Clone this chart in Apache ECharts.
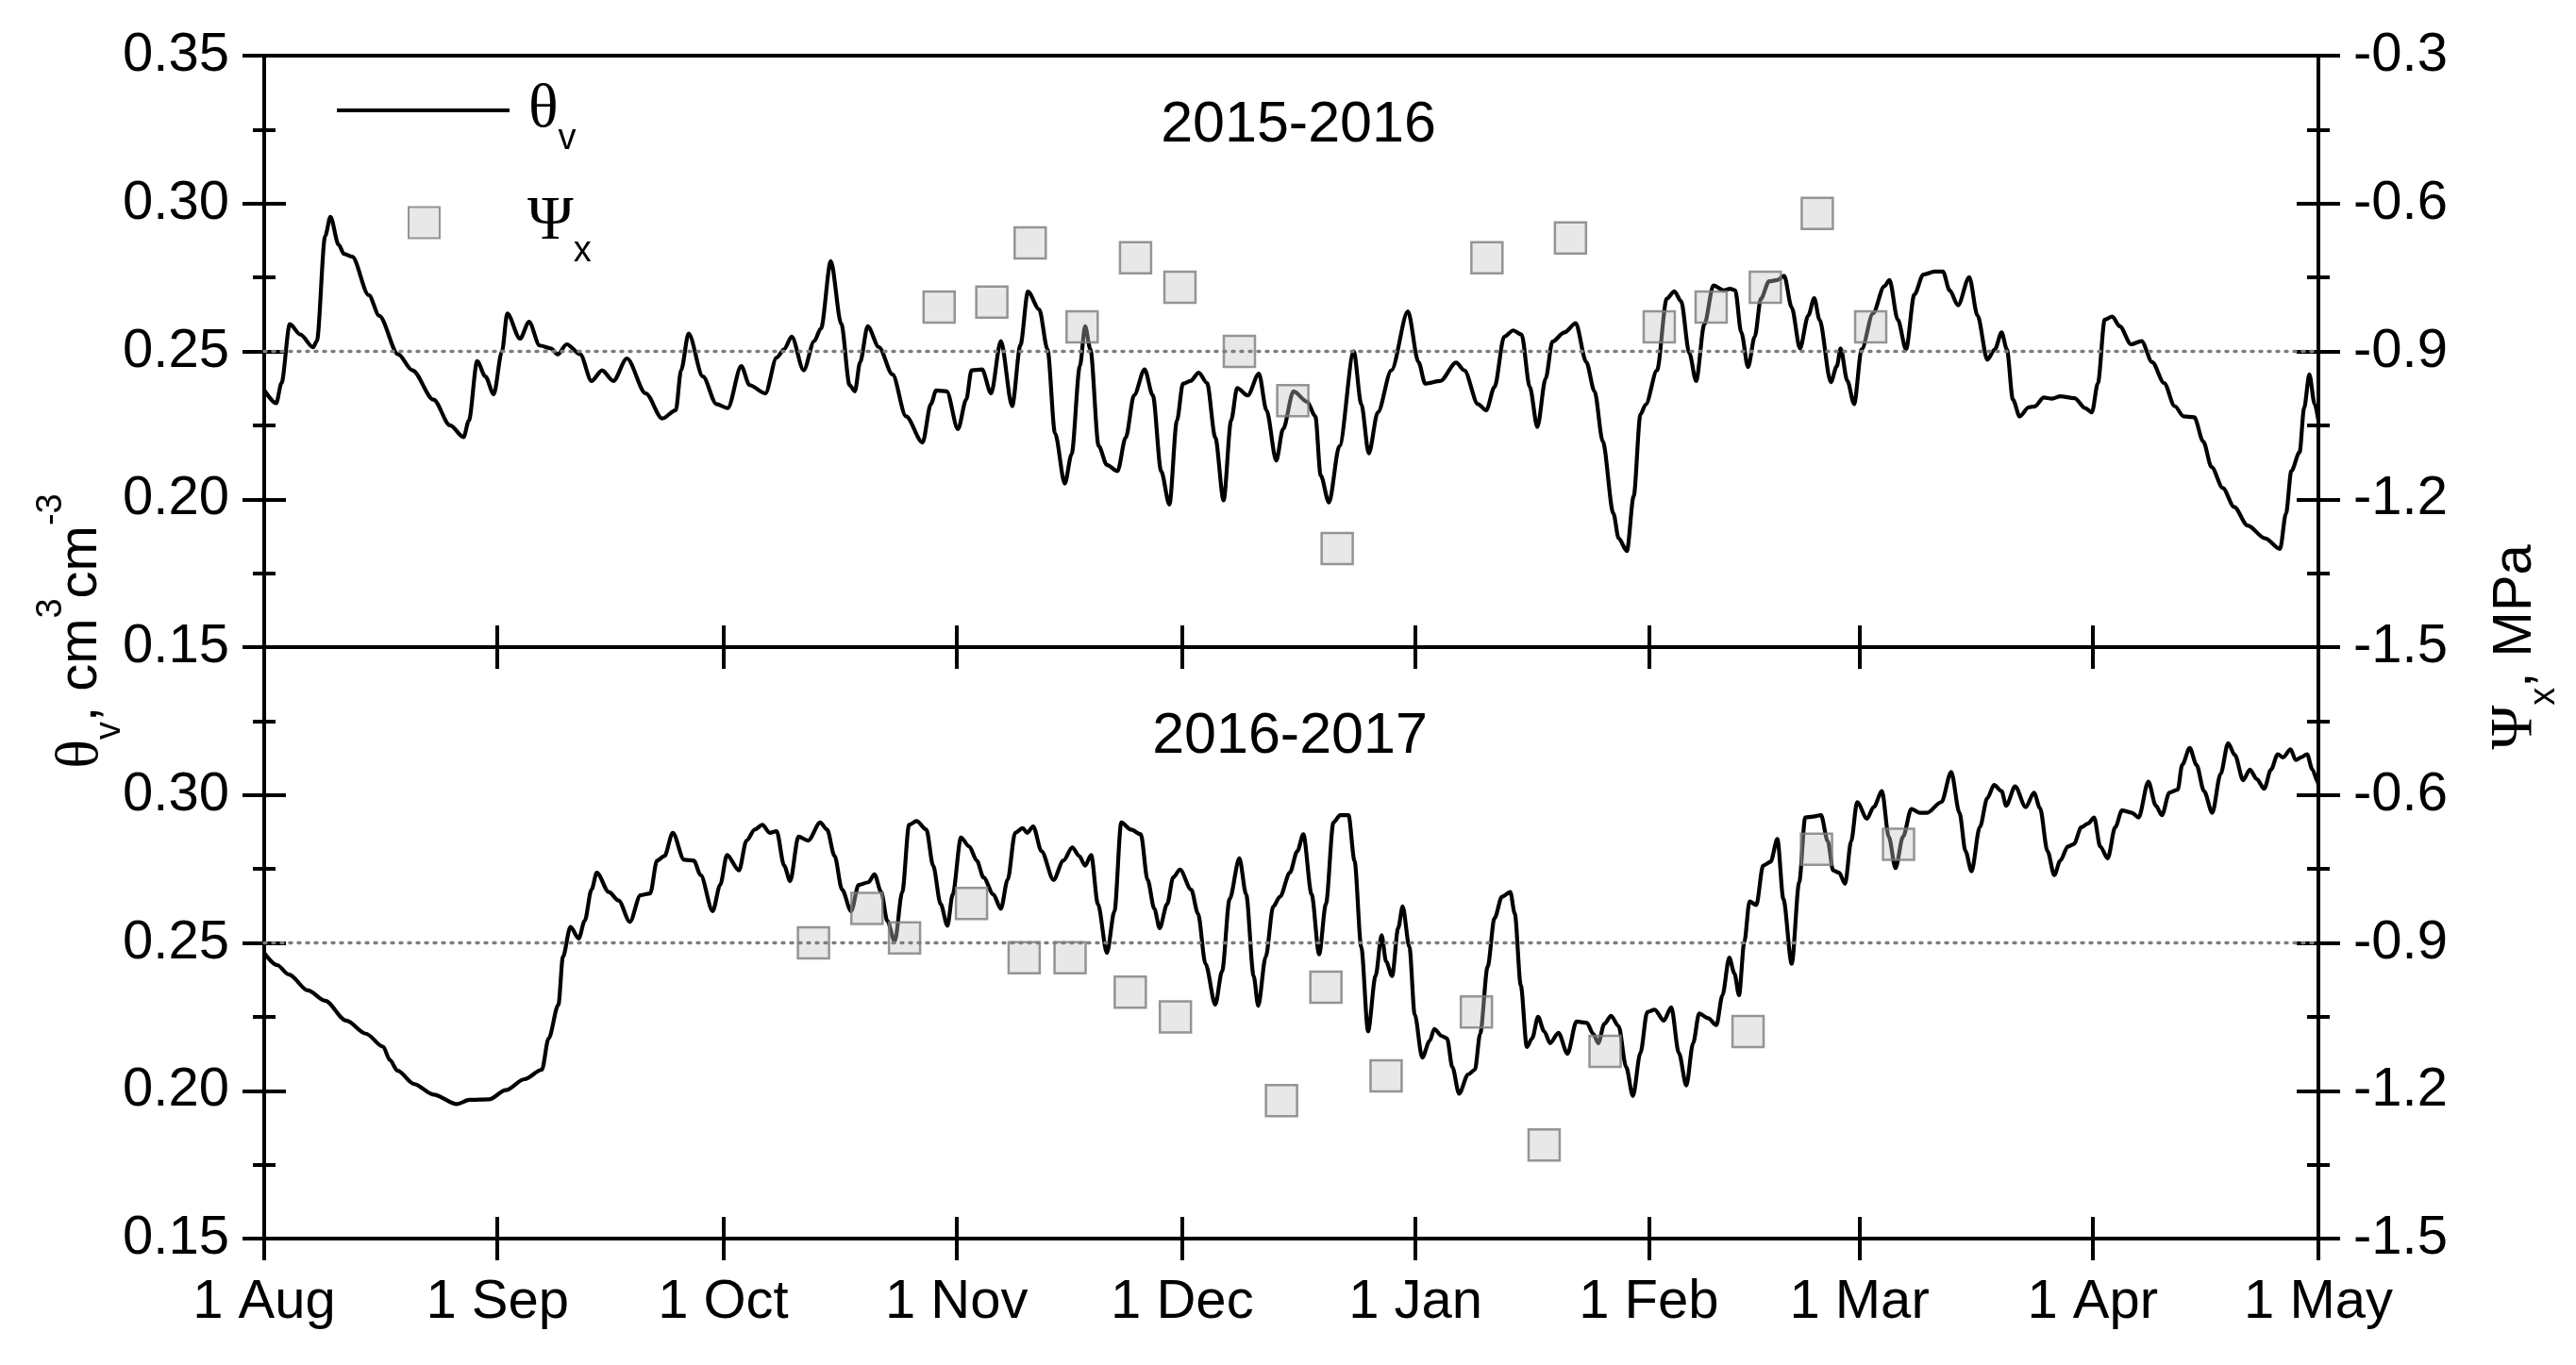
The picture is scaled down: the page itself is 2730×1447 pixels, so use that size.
<!DOCTYPE html>
<html>
<head>
<meta charset="utf-8">
<script src="https://cdn.jsdelivr.net/npm/echarts@6/dist/echarts.min.js"></script>
<style>
html,body{margin:0;padding:0;background:#fff;}
#chart{width:2730px;height:1447px;}
</style>
</head>
<body>
<div id="chart"></div>
<script>
// ---------------- DATA ----------------
// x = days since 1 Aug
const monthDays = [0, 31, 61, 92, 122, 153, 184, 212, 243, 273];
const monthLabels = ['1 Aug', '1 Sep', '1 Oct', '1 Nov', '1 Dec', '1 Jan', '1 Feb', '1 Mar', '1 Apr', '1 May'];
const seasonTitles = ['2015-2016', '2016-2017'];
const thetaReference = 0.25;

// soil water content θv (cm3 cm-3), 2015-2016
const theta2015 = [
[0,0.237],[1.6,0.2325],[2.3,0.2393],[3.4,0.2592],[4.8,0.2557],[6.5,0.2514],[7,0.2535],[8.1,0.289],[8.8,0.2955],[9.9,0.286],
[10.6,0.283],[11.7,0.282],[13.9,0.269],[15.3,0.262],[17.8,0.249],[19.7,0.2436],[22.5,0.2337],[24.7,0.225],[26.5,0.221],[27.2,0.2266],
[28.3,0.2467],[29.4,0.2415],[30.5,0.2355],[31.6,0.25],[32.3,0.2628],[34,0.2543],[35.2,0.26],[36.6,0.252],[38.1,0.251],[39,0.249],
[40.2,0.2524],[42,0.249],[43.5,0.240],[44.9,0.2436],[46.4,0.240],[48.2,0.2476],[50.7,0.2358],[52.9,0.2273],[54.7,0.2301],[55.4,0.2436],
[56.4,0.256],[58.3,0.2415],[60.1,0.2322],[61.6,0.2308],[63.4,0.245],[64.5,0.2386],[66.6,0.2358],[68.1,0.2479],[69.1,0.2507],[70.1,0.255],
[71.7,0.2436],[73.1,0.2535],[74,0.2578],[75.3,0.2805],[76.7,0.2592],[77.8,0.2386],[78.5,0.2365],[79.2,0.2464],[80.2,0.2585],[81.7,0.2514],
[83.5,0.2422],[85.3,0.228],[87.5,0.2192],[88.6,0.2322],[89.3,0.2368],[90.7,0.2365],[92.2,0.2237],[93.3,0.2337],[94,0.2436],[95.4,0.2439],
[96.6,0.2358],[97.9,0.2535],[99.4,0.2315],[100.5,0.2521],[101.5,0.2702],[103,0.2642],[104.1,0.2507],[105.1,0.2223],[106.4,0.2053],[107.3,0.2152],
[108.4,0.245],[109.1,0.2585],[109.8,0.2507],[110.9,0.218],[112,0.2116],[113.4,0.2095],[114.5,0.2209],[115.6,0.2351],[117,0.2439],[118.1,0.2351],
[119.2,0.2095],[120.3,0.1982],[121.3,0.2266],[122.1,0.2391],[123.1,0.24],[124.2,0.2428],[125.3,0.2393],[126.4,0.2209],[127.5,0.1996],[128.5,0.2266],
[129.3,0.2376],[130.7,0.2351],[132.2,0.2425],[133.2,0.2301],[134.5,0.2131],[135.4,0.2237],[136.8,0.2365],[138.6,0.233],[139.7,0.228],[140.4,0.2081],
[141.5,0.1989],[142.9,0.218],[144.8,0.25],[145.8,0.2322],[146.8,0.2155],[148,0.2294],[149.8,0.2436],[152,0.2635],[153.4,0.2464],[154.3,0.2391],
[156.3,0.24],[158.4,0.2462],[159.5,0.2436],[161.3,0.2322],[162.4,0.2301],[163.5,0.2379],[164.8,0.255],[166,0.2571],[167.1,0.2557],[168.2,0.2379],
[169.2,0.2244],[170.3,0.2408],[171.2,0.2533],[172.8,0.2564],[174.3,0.2595],[175.7,0.2464],[176.8,0.2365],[177.9,0.2195],[179.3,0.1953],[180,0.1868],
[181.1,0.1825],[182,0.201],[182.9,0.2287],[183.6,0.232],[185.1,0.2436],[186.4,0.2678],[187.4,0.2703],[188.3,0.267],[189.4,0.2493],[190.3,0.24],
[191.4,0.2592],[192.6,0.2723],[194,0.2706],[194.8,0.2712],[195.5,0.2706],[196.3,0.2564],[197.2,0.2447],[198.1,0.255],[198.9,0.2678],[200,0.2737],
[201.1,0.2741],[202,0.2756],[203,0.2649],[204.1,0.251],[205.2,0.2621],[206,0.268],[206.7,0.2607],[208.2,0.2396],[209,0.245],[209.5,0.251],
[210.4,0.24],[211.3,0.2322],[212.3,0.2507],[213.8,0.2628],[215.3,0.272],[216,0.2741],[217.1,0.2607],[218.2,0.2507],[219.3,0.2692],[220.5,0.276],
[222,0.277],[223.1,0.277],[224,0.2706],[225.1,0.2656],[226.6,0.2751],[227.7,0.2621],[229,0.2472],[230,0.2507],[230.9,0.2564],[231.6,0.2507],
[232.4,0.2337],[233.3,0.228],[234.5,0.2311],[235.3,0.2314],[236.5,0.2344],[237.6,0.234],[238.7,0.2348],[240.6,0.2342],[242,0.2308],[242.9,0.2294],
[243.7,0.2393],[244.6,0.2607],[245.6,0.2618],[246.6,0.2585],[248.1,0.2524],[249.5,0.2535],[250.9,0.2464],[252.5,0.2393],[253.9,0.2315],[255.1,0.228],
[256.5,0.2277],[257.7,0.2195],[258.8,0.2109],[260.3,0.2038],[261.8,0.1974],[263.6,0.1911],[265.9,0.1868],[267.9,0.1832],[268.7,0.1953],[269.4,0.2095],
[270.5,0.2159],[271.1,0.2308],[271.8,0.2422],[272.5,0.2322],[273,0.2266]
];

// soil water content θv (cm3 cm-3), 2016-2017
const theta2016 = [
[0,0.2466],[1.7,0.2425],[3.3,0.2393],[5.8,0.2339],[8.1,0.2304],[10.9,0.2237],[13.5,0.2193],[15.8,0.2149],[16.7,0.2104],[17.7,0.2068],
[19.9,0.2023],[22.5,0.1987],[25.6,0.1955],[27.3,0.1969],[29.9,0.1971],[32.1,0.2002],[34.6,0.2039],[36.9,0.2071],[37.8,0.2177],[39.1,0.2291],
[39.7,0.2453],[40.7,0.2554],[41.8,0.2515],[42.6,0.2575],[43.5,0.268],[44.2,0.2737],[45.8,0.2672],[47.1,0.2643],[48.6,0.2571],[50,0.2661],
[51.3,0.2667],[52.2,0.2778],[53.2,0.2794],[54.3,0.2872],[55.8,0.2781],[57.1,0.2778],[58,0.2729],[59.6,0.2607],[60.6,0.2696],[61.5,0.2797],
[63.1,0.2745],[64.1,0.2846],[65.2,0.2883],[66.2,0.2899],[67.2,0.2872],[68.1,0.2878],[69.1,0.2761],[69.9,0.2709],[71,0.2859],[72.3,0.2846],
[73.9,0.2907],[74.8,0.2883],[75.8,0.2794],[76.8,0.268],[78,0.2607],[79,0.2696],[80.3,0.2705],[81.1,0.2732],[82,0.2672],[82.8,0.2575],
[83.8,0.2505],[84.8,0.2672],[85.7,0.2899],[86.7,0.2912],[88,0.2883],[88.9,0.2761],[89.9,0.2631],[90.8,0.2558],[91.5,0.2664],[92.6,0.2856],
[93.7,0.2826],[94.7,0.2778],[95.6,0.2721],[96.9,0.2664],[97.9,0.2615],[98.8,0.2713],[99.8,0.2872],[100.8,0.2888],[101.4,0.2872],[102.2,0.2894],
[103.3,0.281],[104.9,0.2713],[106.2,0.2778],[107.4,0.2823],[108.3,0.2794],[109.1,0.2761],[109.9,0.2797],[110.8,0.2631],[112,0.2466],[113,0.2607],
[113.9,0.2907],[115.2,0.2883],[116.5,0.2867],[117.4,0.2713],[118.3,0.2615],[119,0.255],[120,0.2631],[120.8,0.2721],[121.7,0.2748],[123.2,0.268],
[124.1,0.2599],[125.1,0.2429],[126.4,0.2291],[127.3,0.2404],[128.3,0.2648],[129.6,0.2786],[130.5,0.2664],[131.5,0.2388],[132.1,0.2287],[133.1,0.2453],
[134.1,0.2623],[135,0.2656],[136.3,0.2737],[137.3,0.281],[138.1,0.2867],[139.2,0.2664],[140.2,0.2461],[141.1,0.2631],[142.1,0.2907],[143,0.2932],
[144.1,0.2932],[144.9,0.2778],[145.8,0.2485],[146.7,0.2201],[147.7,0.2388],[148.5,0.2526],[149.1,0.2437],[149.9,0.2388],[150.7,0.255],[151.3,0.2623],
[152.2,0.2485],[152.9,0.2258],[153.9,0.2112],[154.9,0.2169],[155.5,0.2209],[156.5,0.2185],[157.2,0.2177],[157.9,0.208],[158.8,0.199],[160,0.2055],
[160.9,0.2071],[161.6,0.2193],[162.6,0.242],[163.5,0.2583],[164.5,0.2656],[165.6,0.2672],[166.2,0.2599],[167,0.2356],[167.8,0.2148],[168.5,0.2177],
[169.3,0.225],[170.1,0.2201],[170.9,0.2161],[172,0.2196],[173.2,0.2125],[174.4,0.2234],[175.8,0.2229],[176.6,0.2193],[177.3,0.2161],[178.1,0.2226],
[179,0.2253],[180,0.2218],[181,0.208],[181.9,0.1982],[182.9,0.2128],[183.8,0.2266],[184.8,0.2274],[186,0.2237],[187,0.2282],[188,0.2128],
[189,0.2018],[189.9,0.2161],[190.7,0.2261],[191.9,0.2245],[193,0.2222],[193.8,0.2323],[194.7,0.245],[195.4,0.2396],[196,0.2323],[196.7,0.2502],
[197.4,0.264],[198.3,0.2628],[199.2,0.2761],[200.2,0.2774],[201.1,0.2851],[201.9,0.2648],[203,0.2429],[204,0.2705],[204.8,0.2924],[205.9,0.2927],
[206.9,0.2932],[207.8,0.2843],[208.5,0.2745],[209.3,0.2737],[210.1,0.27],[210.9,0.2843],[211.7,0.2976],[213,0.292],[213.9,0.2959],[215,0.3013],
[215.9,0.2859],[216.8,0.2753],[217.8,0.2859],[218.9,0.2953],[220,0.294],[221,0.294],[222.9,0.2976],[224.2,0.3078],[225.3,0.294],[226.1,0.281],
[226.9,0.2742],[228,0.2891],[229,0.2989],[229.9,0.3034],[230.9,0.3013],[231.5,0.2964],[232.7,0.3029],[234.1,0.2959],[235.2,0.3008],[236,0.2956],
[237,0.281],[237.9,0.2729],[238.7,0.2778],[239.7,0.2826],[240.5,0.2834],[241.5,0.2891],[242.4,0.2904],[243.2,0.2924],[244,0.2826],[245,0.2786],
[246,0.2891],[246.9,0.2948],[248.2,0.294],[249.1,0.2924],[250.4,0.3045],[251.4,0.2964],[252.2,0.2932],[253.2,0.3008],[254.3,0.3018],[254.9,0.3102],
[255.9,0.3159],[256.8,0.3102],[257.8,0.3013],[258.9,0.294],[260,0.3071],[261,0.3175],[261.9,0.3135],[263,0.305],[263.9,0.3086],[264.8,0.3054],
[265.8,0.3021],[266.7,0.3086],[267.6,0.3138],[268.3,0.3127],[269.3,0.3154],[270,0.3118],[270.7,0.3127],[271.5,0.3138],[272.2,0.3086],[272.9,0.3045],
[273,0.3034]
];

// xylem water potential Ψx (MPa)
const psi2015 = [
[89.7,-0.81],[96.7,-0.80],[101.8,-0.68],[108.7,-0.85],[115.8,-0.71],[121.7,-0.77],[129.6,-0.90],[136.7,-1.00],
[142.6,-1.30],[162.5,-0.71],[173.6,-0.67],[185.4,-0.85],[192.3,-0.81],[199.5,-0.77],[206.4,-0.62],[213.5,-0.85]
];
const psi2016 = [
[73.0,-0.90],[80.1,-0.83],[85.1,-0.89],[94.0,-0.82],[101.0,-0.93],[107.1,-0.93],[115.1,-1.00],[121.1,-1.05],[135.2,-1.22],
[141.1,-0.99],[149.1,-1.17],[161.1,-1.04],[170.1,-1.31],[178.2,-1.12],[197.2,-1.08],[206.3,-0.71],[217.2,-0.70]
];

// ---------------- STYLE / LAYOUT ----------------
const SANS = "'Liberation Sans', Arial, sans-serif";
const SERIF = "'Liberation Serif', 'Times New Roman', serif";
const BLACK = '#000';
const PLOT_LEFT = 280, PLOT_W = 2177, PANEL_H = 627, TOP0 = 59;

const axisLineStyle = {show: true, onZero: false, lineStyle: {color: BLACK, width: 4}};
const tickLine = {color: BLACK, width: 4};

function xAxisDef(grid, pos, tickShow, inside, labelShow) {
  return {
    type: 'value', gridIndex: grid, position: pos, min: 0, max: 273,
    axisLine: axisLineStyle,
    axisTick: {show: tickShow, inside: inside, length: 23, customValues: monthDays, lineStyle: tickLine},
    axisLabel: {
      show: labelShow, customValues: monthDays, margin: 39,
      fontFamily: SANS, fontSize: 58, color: BLACK,
      formatter: v => { const i = monthDays.indexOf(Math.round(v)); return i >= 0 ? monthLabels[i] : ''; }
    },
    splitLine: {show: false}
  };
}

function thetaAxis(grid, inside, labelShow, hideMax) {
  return {
    type: 'value', gridIndex: grid, position: 'left', min: 0.15, max: 0.35, interval: 0.05,
    axisLine: axisLineStyle,
    axisTick: {show: true, inside: inside, length: 23, lineStyle: tickLine},
    minorTick: {show: true, splitNumber: 2, length: 12, lineStyle: tickLine},
    axisLabel: {show: labelShow, margin: 37, fontFamily: SANS, fontSize: 58, color: BLACK,
      showMaxLabel: !hideMax, formatter: v => v.toFixed(2)},
    splitLine: {show: false}
  };
}

function psiAxis(grid, inside, labelShow, hideMax) {
  return {
    type: 'value', gridIndex: grid, position: 'right', min: -1.5, max: -0.3, interval: 0.3,
    axisLine: axisLineStyle,
    axisTick: {show: true, inside: inside, length: 23, lineStyle: tickLine},
    minorTick: {show: true, splitNumber: 2, length: 12, lineStyle: tickLine},
    axisLabel: {show: labelShow, margin: 37, fontFamily: SANS, fontSize: 58, color: BLACK,
      showMaxLabel: !hideMax, formatter: v => v.toFixed(1)},
    splitLine: {show: false}
  };
}

const refLine = {
  silent: true, symbol: ['none', 'none'], label: {show: false}, animation: false,
  lineStyle: {color: '#7d7d7d', type: [2, 7], cap: 'round', width: 3.4},
  emphasis: {disabled: true},
  data: [{yAxis: thetaReference}]
};

const lineStyleSeries = {color: BLACK, width: 4.2};
const squareStyle = {color: 'rgba(195,195,195,0.48)', borderColor: '#7c7c7c', borderWidth: 2.5};

const legendRich = {
  g: {fontFamily: SERIF, fontSize: 66, lineHeight: 100, color: BLACK},
  s: {fontFamily: SANS, fontSize: 38, lineHeight: 20, verticalAlign: 'bottom', color: BLACK}
};

const option = {
  animation: false,
  backgroundColor: '#fff',
  title: [
    {text: seasonTitles[0], left: 1376, top: 103, textAlign: 'center', padding: 0,
     textStyle: {fontFamily: SANS, fontSize: 61, fontWeight: 'normal', color: BLACK}},
    {text: seasonTitles[1], left: 1367, top: 751, textAlign: 'center', padding: 0,
     textStyle: {fontFamily: SANS, fontSize: 61, fontWeight: 'normal', color: BLACK}}
  ],
  legend: [
    {data: ['θv'], left: 357, top: 84, padding: 0, itemWidth: 183, itemHeight: 4, selectedMode: false,
     icon: 'rect', itemStyle: {color: BLACK, borderWidth: 0},
     formatter: () => '{g|θ}{s|v}',
     textStyle: {rich: Object.assign({}, legendRich, {g: Object.assign({}, legendRich.g, {padding: [0, 0, 0, 15]})})}},
    {data: ['Ψx'], left: 432, top: 203, padding: 0, itemWidth: 33, itemHeight: 33, selectedMode: false,
     formatter: () => '{g|Ψ}{s|x}',
     textStyle: {rich: Object.assign({}, legendRich, {g: Object.assign({}, legendRich.g, {padding: [0, 0, 0, 88]})})}}
  ],
  grid: [
    {left: PLOT_LEFT, top: TOP0, width: PLOT_W, height: PANEL_H},
    {left: PLOT_LEFT, top: TOP0 + PANEL_H, width: PLOT_W, height: PANEL_H},
    {left: PLOT_LEFT, top: TOP0, width: PLOT_W, height: PANEL_H * 2}
  ],
  xAxis: [
    xAxisDef(0, 'bottom', true, true, false),   // 0: top panel bottom, ticks up
    xAxisDef(0, 'top', false, true, false),     // 1: top frame
    xAxisDef(1, 'top', true, true, false),      // 2: bottom panel top, ticks down
    xAxisDef(1, 'bottom', true, true, false),   // 3: bottom panel bottom, ticks up
    xAxisDef(1, 'bottom', true, false, true),   // 4: bottom panel bottom, ticks down + labels
    {type: 'value', gridIndex: 2, show: false, min: 0, max: 1}
  ],
  yAxis: [
    thetaAxis(0, false, true, false),   // 0
    thetaAxis(0, true, false, false),   // 1
    psiAxis(0, false, true, false),     // 2
    psiAxis(0, true, false, false),     // 3
    thetaAxis(1, false, true, true),    // 4
    thetaAxis(1, true, false, true),    // 5
    psiAxis(1, false, true, true),      // 6
    psiAxis(1, true, false, true),      // 7
    { // 8: left axis title
      type: 'value', gridIndex: 2, position: 'left', min: 0, max: 1,
      axisLine: {show: false}, axisTick: {show: false}, axisLabel: {show: false}, splitLine: {show: false},
      name: '{t|θ}{s|v}{n|, cm}{p|3}{n|cm}{p|-3}',
      nameLocation: 'middle', nameRotate: 90, nameGap: 144,
      nameTextStyle: {rich: {
        t: {fontFamily: SERIF, fontSize: 64, lineHeight: 100, color: BLACK, padding: [0, 0, 0, 34]},
        n: {fontFamily: SANS, fontSize: 58, lineHeight: 100, color: BLACK},
        s: {fontFamily: SANS, fontSize: 38, lineHeight: 40, verticalAlign: 'bottom', color: BLACK},
        p: {fontFamily: SANS, fontSize: 38, lineHeight: 48, verticalAlign: 'top', color: BLACK}
      }}
    },
    { // 9: right axis title
      type: 'value', gridIndex: 2, position: 'right', min: 0, max: 1,
      axisLine: {show: false}, axisTick: {show: false}, axisLabel: {show: false}, splitLine: {show: false},
      name: '{t|Ψ}{s|x}{n|, MPa}',
      nameLocation: 'middle', nameRotate: 90, nameGap: 159,
      nameTextStyle: {rich: {
        t: {fontFamily: SERIF, fontSize: 64, lineHeight: 100, color: BLACK},
        n: {fontFamily: SANS, fontSize: 58, lineHeight: 100, color: BLACK},
        s: {fontFamily: SANS, fontSize: 38, lineHeight: 46, verticalAlign: 'bottom', color: BLACK}
      }}
    }
  ],
  series: [
    {type: 'line', name: 'θv', xAxisIndex: 0, yAxisIndex: 0, data: theta2015, symbol: 'none',
     smooth: 0.3, smoothMonotone: 'x',
     lineStyle: lineStyleSeries, itemStyle: {color: BLACK}, z: 3, markLine: refLine},
    {type: 'scatter', name: 'Ψx', xAxisIndex: 0, yAxisIndex: 2, data: psi2015, symbol: 'rect',
     symbolSize: 33, itemStyle: squareStyle, z: 4},
    {type: 'line', name: 'θv', xAxisIndex: 4, yAxisIndex: 4, data: theta2016, symbol: 'none',
     smooth: 0.3, smoothMonotone: 'x',
     lineStyle: lineStyleSeries, itemStyle: {color: BLACK}, z: 3, markLine: refLine},
    {type: 'scatter', name: 'Ψx', xAxisIndex: 4, yAxisIndex: 6, data: psi2016, symbol: 'rect',
     symbolSize: 33, itemStyle: squareStyle, z: 4}
  ]
};

const chart = echarts.init(document.getElementById('chart'), null, {renderer: 'canvas'});
chart.setOption(option);
</script>
</body>
</html>
